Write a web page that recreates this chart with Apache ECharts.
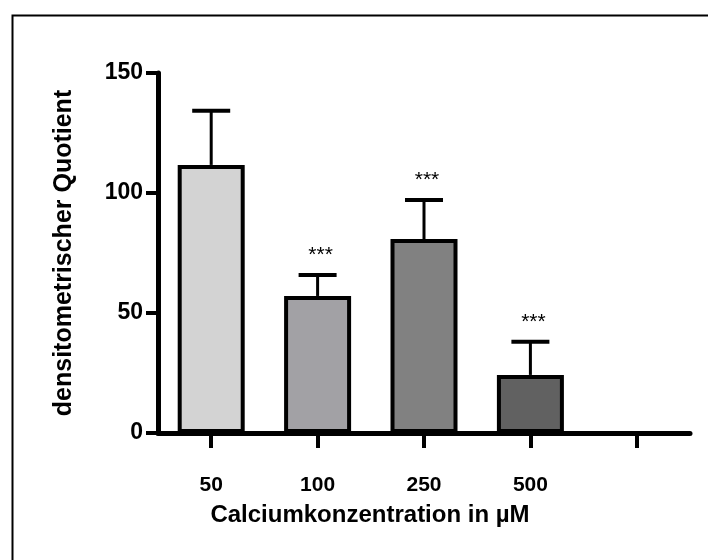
<!DOCTYPE html>
<html>
<head>
    <meta charset="utf-8" />
    <title>Calciumkonzentration</title>
    <script src="https://cdn.jsdelivr.net/npm/echarts@6/dist/echarts.min.js"></script>
    <style>
        html, body { margin: 0; padding: 0; background: #fff; }
        #chart { width: 708px; height: 560px; }
    </style>
</head>
<body>
    <div id="chart"></div>

    <script type="text/javascript">
        // 数据
        var categories = ['50', '100', '250', '500', ''];
        var means = [111.7, 57.1, 80.8, 24.2, 0];
        var errors = [22.6, 8.7, 16.3, 13.8, 0];
        var stars = ['', '***', '***', '***', ''];
        var barColors = ['#d3d3d3', '#a2a1a5', '#818181', '#616161', '#ffffff'];
        var yTicks = [0, 50, 100, 150];

        var font = "'Liberation Sans', Arial, sans-serif";

        var myChart = echarts.init(document.getElementById('chart'));

        myChart.setOption({
            animation: false,
            backgroundColor: '#ffffff',
            graphic: [{
                type: 'rect',
                left: 10,
                top: 13,
                shape: { width: 720, height: 600 },
                style: { fill: 'none', stroke: '#000', lineWidth: 2 }
            }],
            grid: {
                left: 158,
                top: 73,
                width: 532,
                height: 360
            },
            xAxis: {
                type: 'category',
                data: categories,
                name: 'Calciumkonzentration in µM',
                nameLocation: 'middle',
                nameGap: 70,
                nameTextStyle: {
                    fontFamily: font,
                    fontSize: 24,
                    fontWeight: 'bold',
                    color: '#000',
                    padding: [0, 108, 0, 0]
                },
                axisLine: { lineStyle: { color: '#000', width: 5 } },
                axisTick: { show: true, alignWithLabel: true, length: 15, lineStyle: { color: '#000', width: 4 } },
                axisLabel: {
                    margin: 42,
                    fontFamily: font,
                    fontSize: 21,
                    fontWeight: 'bold',
                    color: '#000'
                },
                splitLine: { show: false }
            },
            yAxis: {
                type: 'value',
                min: yTicks[0],
                max: yTicks[yTicks.length - 1],
                interval: 50,
                name: 'densitometrischer Quotient',
                nameLocation: 'middle',
                nameGap: 81,
                nameTextStyle: {
                    fontFamily: font,
                    fontSize: 25,
                    fontWeight: 'bold',
                    color: '#000'
                },
                axisLine: { show: true, lineStyle: { color: '#000', width: 5 } },
                axisTick: { show: true, length: 12, lineStyle: { color: '#000', width: 4 } },
                axisLabel: {
                    margin: 15,
                    fontFamily: font,
                    fontSize: 23,
                    fontWeight: 'bold',
                    color: '#000'
                },
                splitLine: { show: false }
            },
            series: [{
                type: 'bar',
                barWidth: 67,
                data: means.map(function (v, i) {
                    return {
                        value: v,
                        itemStyle: { color: barColors[i], borderColor: '#000', borderWidth: 4 }
                    };
                }),
                z: 2
            }, {
                // 误差线 + 显著性标记
                type: 'custom',
                z: 3,
                data: means.map(function (v, i) { return [i, v, v + errors[i], stars[i]]; }),
                renderItem: function (params, api) {
                    var i = api.value(0);
                    if (errors[i] <= 0) return;
                    var base = api.coord([i, api.value(1)]);
                    var top = api.coord([i, api.value(2)]);
                    var half = 19;
                    var children = [{
                        type: 'line',
                        shape: { x1: top[0], y1: base[1], x2: top[0], y2: top[1] },
                        style: { stroke: '#000', lineWidth: 3 }
                    }, {
                        type: 'line',
                        shape: { x1: top[0] - half, y1: top[1], x2: top[0] + half, y2: top[1] },
                        style: { stroke: '#000', lineWidth: 4 }
                    }];
                    if (stars[i]) {
                        children.push({
                            type: 'text',
                            x: top[0] + 3,
                            y: top[1] - 20,
                            style: {
                                text: stars[i],
                                fontFamily: font,
                                fontSize: 21,
                                fill: '#000',
                                align: 'center',
                                verticalAlign: 'middle'
                            }
                        });
                    }
                    return { type: 'group', children: children };
                }
            }]
        });
    </script>
</body>
</html>
